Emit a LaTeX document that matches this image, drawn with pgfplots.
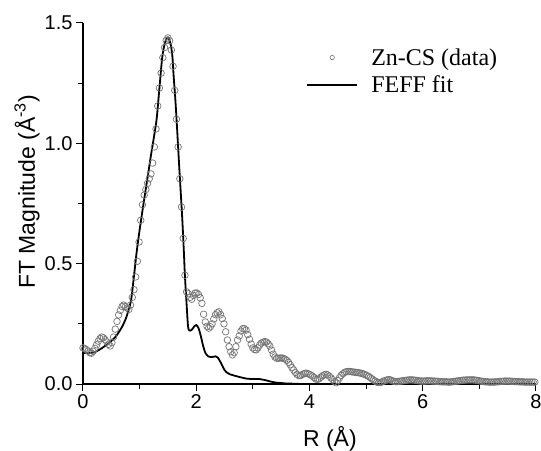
\documentclass[border=0pt]{standalone}
\usepackage{pgfplots}
\pgfplotsset{compat=1.18}
\usepackage{fontspec}
\setmainfont{Liberation Sans}
\newfontfamily\legendfont{Liberation Serif}
\definecolor{datagray}{RGB}{115,115,115}
\begin{document}
\begin{tikzpicture}
\begin{axis}[
  at={(0pt,0pt)}, anchor=south west,
  scale only axis, width=453pt, height=361pt,
  xmin=0, xmax=8, ymin=0, ymax=1.5,
  axis x line*=bottom, axis y line*=left,
  clip=false,
  xtick={0,2,4,6,8}, minor xtick={1,3,5,7},
  ytick={0,0.5,1,1.5}, minor ytick={0.25,0.75,1.25},
  tick align=outside, major tick length=7pt, minor tick length=4.5pt,
  every tick/.style={black, line width=1pt},
  axis line style={line width=1.2pt},
  /pgf/number format/assume math mode=true,
  yticklabel style={/pgf/number format/.cd, fixed, fixed zerofill, precision=1},
  xticklabel style={/pgf/number format/.cd, fixed, precision=0},
  ticklabel style={font=\fontsize{20}{23}\selectfont},
  label style={font=\fontsize{23}{27}\selectfont},
  xlabel={R (Å)}, ylabel={FT Magnitude (Å\textsuperscript{-3})},
  xlabel style={at={(axis description cs:0.545,0)}, anchor=base, yshift=-62pt},
  ylabel style={at={(axis description cs:-0.1236,0.532)}, anchor=center},
  legend style={draw=none, fill=none, at={(axis description cs:0.486,0.941)}, anchor=north west,
    font=\legendfont\fontsize{24}{26}\selectfont, row sep=5pt},
  legend cell align=left,
]
\addplot[only marks, mark=o, mark size=3.3pt, draw=datagray, mark options={line width=0.7pt, draw=datagray},
  legend image code/.code={\path[draw=none] (0pt,0pt) -- (62pt,0pt); \path[draw=datagray, line width=0.6pt] (25pt,0pt) circle[radius=2.2pt];}]
table {
x y
0.00 0.150
0.03 0.147
0.06 0.143
0.09 0.137
0.12 0.130
0.15 0.128
0.18 0.136
0.21 0.148
0.24 0.163
0.27 0.178
0.30 0.189
0.33 0.195
0.36 0.192
0.39 0.184
0.42 0.175
0.45 0.165
0.48 0.158
0.51 0.172
0.54 0.195
0.57 0.228
0.60 0.260
0.63 0.287
0.66 0.306
0.69 0.322
0.72 0.328
0.75 0.322
0.78 0.316
0.81 0.310
0.84 0.328
0.87 0.360
0.90 0.392
0.93 0.445
0.96 0.510
0.99 0.590
1.02 0.680
1.05 0.745
1.08 0.785
1.11 0.808
1.14 0.834
1.17 0.853
1.20 0.873
1.23 0.918
1.26 0.985
1.29 1.060
1.32 1.155
1.35 1.230
1.38 1.292
1.41 1.356
1.44 1.398
1.47 1.428
1.50 1.438
1.53 1.426
1.56 1.388
1.59 1.320
1.62 1.220
1.65 1.100
1.68 0.985
1.71 0.853
1.74 0.735
1.77 0.605
1.80 0.452
1.83 0.383
1.86 0.375
1.89 0.360
1.92 0.352
1.95 0.368
1.98 0.378
2.01 0.378
2.04 0.372
2.07 0.358
2.10 0.335
2.13 0.290
2.16 0.258
2.19 0.240
2.22 0.232
2.25 0.238
2.28 0.250
2.31 0.270
2.34 0.288
2.37 0.296
2.40 0.300
2.43 0.288
2.46 0.272
2.49 0.250
2.52 0.217
2.55 0.183
2.58 0.155
2.61 0.134
2.64 0.121
2.67 0.130
2.70 0.155
2.73 0.183
2.76 0.200
2.79 0.220
2.82 0.230
2.85 0.230
2.88 0.224
2.91 0.205
2.94 0.186
2.97 0.166
3.00 0.150
3.03 0.143
3.06 0.142
3.09 0.150
3.12 0.162
3.15 0.170
3.18 0.174
3.21 0.176
3.24 0.174
3.27 0.167
3.30 0.158
3.33 0.141
3.36 0.124
3.39 0.112
3.42 0.107
3.45 0.107
3.48 0.108
3.51 0.108
3.54 0.107
3.57 0.103
3.60 0.098
3.63 0.090
3.66 0.080
3.69 0.068
3.72 0.058
3.75 0.048
3.78 0.040
3.81 0.035
3.84 0.035
3.87 0.039
3.90 0.043
3.93 0.045
3.96 0.044
3.99 0.041
4.02 0.038
4.05 0.033
4.08 0.027
4.11 0.021
4.14 0.019
4.17 0.022
4.20 0.028
4.23 0.034
4.26 0.038
4.29 0.040
4.32 0.038
4.35 0.032
4.38 0.025
4.41 0.018
4.44 0.010
4.47 0.005
4.50 0.014
4.53 0.026
4.56 0.036
4.59 0.043
4.62 0.048
4.65 0.051
4.68 0.052
4.71 0.052
4.74 0.051
4.77 0.050
4.80 0.049
4.83 0.048
4.86 0.047
4.89 0.046
4.92 0.044
4.95 0.042
4.98 0.039
5.01 0.036
5.04 0.032
5.07 0.027
5.10 0.022
5.13 0.017
5.16 0.012
5.19 0.008
5.22 0.006
5.25 0.006
5.28 0.009
5.31 0.012
5.34 0.015
5.37 0.017
5.40 0.018
5.43 0.017
5.46 0.014
5.49 0.011
5.52 0.010
5.55 0.010
5.58 0.011
5.61 0.012
5.64 0.013
5.67 0.014
5.70 0.015
5.73 0.016
5.76 0.017
5.79 0.017
5.82 0.017
5.85 0.016
5.88 0.015
5.91 0.014
5.94 0.013
5.97 0.012
6.00 0.012
6.03 0.012
6.06 0.013
6.09 0.013
6.12 0.013
6.15 0.013
6.18 0.012
6.21 0.012
6.24 0.011
6.27 0.011
6.30 0.010
6.33 0.009
6.36 0.009
6.39 0.009
6.42 0.009
6.45 0.008
6.48 0.008
6.51 0.009
6.54 0.010
6.57 0.011
6.60 0.012
6.63 0.013
6.66 0.014
6.69 0.015
6.72 0.016
6.75 0.016
6.78 0.017
6.81 0.017
6.84 0.017
6.87 0.017
6.90 0.017
6.93 0.016
6.96 0.015
6.99 0.014
7.02 0.012
7.05 0.011
7.08 0.010
7.11 0.009
7.14 0.009
7.17 0.008
7.20 0.008
7.23 0.008
7.26 0.008
7.29 0.009
7.32 0.009
7.35 0.010
7.38 0.011
7.41 0.011
7.44 0.012
7.47 0.012
7.50 0.012
7.53 0.012
7.56 0.011
7.59 0.011
7.62 0.010
7.65 0.010
7.68 0.010
7.71 0.009
7.74 0.009
7.77 0.009
7.80 0.008
7.83 0.008
7.86 0.008
7.89 0.008
7.92 0.008
7.95 0.008
7.98 0.008
};
\addlegendentry{Zn-CS (data)}
\addplot[black, line width=1.8pt, smooth, no marks,
  legend image code/.code={\path[draw=none] (0pt,0pt) -- (62pt,0pt); \draw[black, line width=1.8pt] (0pt,0pt) -- (50pt,0pt);}]
table {
x y
0.00 0.130
0.10 0.128
0.20 0.132
0.30 0.144
0.40 0.160
0.50 0.178
0.55 0.190
0.60 0.204
0.65 0.222
0.70 0.242
0.75 0.268
0.80 0.303
0.85 0.350
0.90 0.448
0.95 0.553
1.00 0.640
1.05 0.720
1.10 0.797
1.15 0.873
1.20 0.950
1.25 1.022
1.30 1.100
1.35 1.230
1.40 1.358
1.45 1.420
1.50 1.440
1.55 1.410
1.58 1.358
1.60 1.282
1.63 1.185
1.66 1.068
1.70 0.900
1.75 0.700
1.78 0.556
1.80 0.450
1.83 0.330
1.855 0.240
1.88 0.222
1.92 0.225
1.96 0.238
2.00 0.245
2.04 0.232
2.08 0.200
2.12 0.160
2.16 0.130
2.21 0.115
2.28 0.112
2.34 0.115
2.38 0.110
2.43 0.090
2.50 0.058
2.55 0.046
2.60 0.040
2.70 0.033
2.80 0.027
2.90 0.022
3.00 0.021
3.10 0.021
3.20 0.017
3.30 0.011
3.40 0.006
3.50 0.004
3.60 0.002
3.80 0.001
4.00 0.000
8.00 0.000
};
\addlegendentry{FEFF fit}
\end{axis}
\pgfresetboundingbox
\useasboundingbox (-83pt,-66pt) rectangle (458pt,384pt);
\end{tikzpicture}
\end{document}
